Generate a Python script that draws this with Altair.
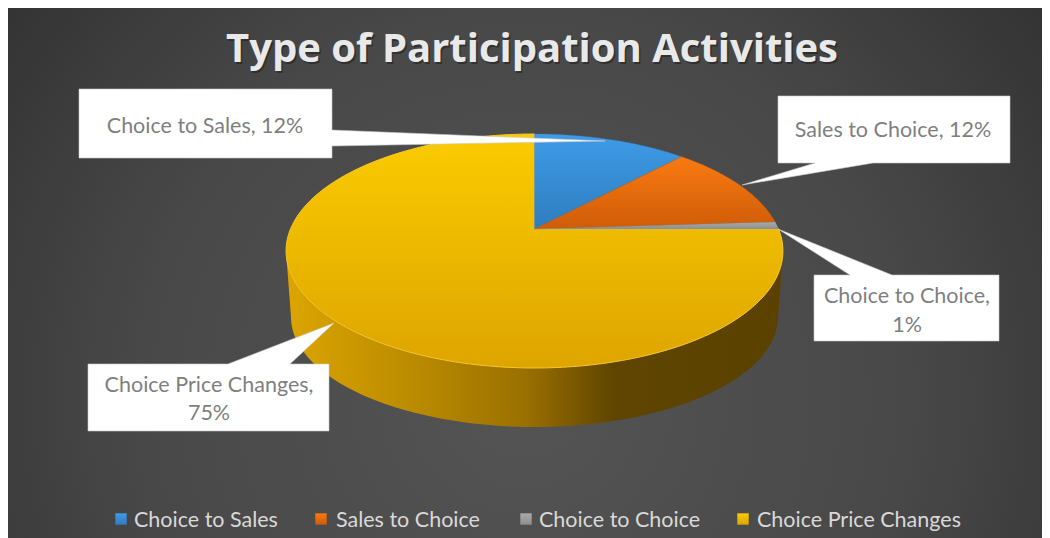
import numpy as np
import pandas as pd
import altair as alt

# ---- chart values
categories = ["Choice to Sales", "Sales to Choice", "Choice to Choice", "Choice Price Changes"]
shares = [12, 12, 1, 75]
title_text = "Type of Participation Activities"
tops = ["#3F9BE8", "#FA7A10", "#ABABAB", "#FBCB00"]
bottoms = ["#2E7DBE", "#CF5C08", "#8E8E8E", "#DEA500"]

# ---- callouts: outline vertices (box + pointer)
call_x = [
    [79, 332, 332, 605, 332, 332, 79],
    [778, 1010, 1010, 873, 742, 815, 778],
    [814, 850, 778, 892, 999, 999, 814],
    [88, 228, 334, 290, 329, 329, 88],
]
call_y = [
    [89, 89, 130, 141, 146, 158, 158],
    [96, 96, 163, 163, 185, 163, 163],
    [275, 275, 229, 275, 275, 341, 341],
    [364, 364, 323, 364, 364, 431, 431],
]
label_text = ["Choice to Sales, 12%", "Sales to Choice, 12%", "Choice to Choice,", "1%", "Choice Price Changes,", "75%"]
label_x = [205, 893, 907, 907, 209, 209]
label_y = [126.5, 130.5, 296.5, 325.5, 386, 414]

legend_swatch_x = [121, 321, 526, 743]
legend_text_x = [134, 336, 539, 757]
legend_y = 519
legend_text_y = 520.5

# ---- perspective of the pie disc
CX, APEX_Y, K, PA, PC = 534.5, 229.0, 244.0, -69.8, 0.188
DISC_CY, DISC_RX, DISC_RY = 251.0, 248.5, 117.0
BASE_CY, BASE_RX, BASE_RY = 317.0, 243.5, 110.0


def disc(theta):
    u, v = np.sin(theta), np.cos(theta)
    d = PC * v + 1
    return CX + K * u / d, (PA * v + APEX_Y) / d


xs = alt.Scale(domain=[8, 1042], range=[0, 1034], nice=False, zero=False)
ys = alt.Scale(domain=[8, 538], range=[0, 530], nice=False, zero=False)
X = alt.X("x:Q", scale=xs, axis=None)
Y = alt.Y("y:Q", scale=ys, axis=None)


def vgrad(c1, c2):
    return alt.LinearGradient(
        gradient="linear", x1=0, x2=0, y1=0, y2=1,
        stops=[alt.GradientStop(color=c1, offset=0), alt.GradientStop(color=c2, offset=1)],
    )


def poly(px, py, **mark):
    df = pd.DataFrame({"x": px, "y": py, "o": range(len(px))})
    return alt.Chart(df).mark_line(interpolate="linear-closed", **mark).encode(x=X, y=Y, order="o:Q")


def text(rows, **mark):
    return alt.Chart(pd.DataFrame(rows)).mark_text(**mark).encode(x=X, y=Y, text="t:N")


layers = []

# background
bg = alt.RadialGradient(
    gradient="radial", x1=0.5, y1=0.62, r1=0.0, x2=0.5, y2=0.62, r2=0.68,
    stops=[
        alt.GradientStop(color="#545454", offset=0),
        alt.GradientStop(color="#484848", offset=0.55),
        alt.GradientStop(color="#2F2F2F", offset=1),
    ],
)
layers.append(
    alt.Chart(pd.DataFrame({"x": [8], "x2": [1042], "y": [8], "y2": [538]}))
    .mark_rect(fill=bg)
    .encode(x=X, x2="x2:Q", y=Y, y2="y2:Q")
)

# side wall of the disc
tt = np.radians(np.arange(0, 181, 2))
wx = list(CX - DISC_RX * np.cos(tt)) + list(CX + BASE_RX * np.cos(tt))
wy = list(DISC_CY + DISC_RY * np.sin(tt)) + list(BASE_CY + BASE_RY * np.sin(tt))
wall = alt.LinearGradient(
    gradient="linear", x1=0, x2=1, y1=0, y2=0,
    stops=[
        alt.GradientStop(color="#DCA500", offset=0),
        alt.GradientStop(color="#BC8C00", offset=0.25),
        alt.GradientStop(color="#9A7000", offset=0.48),
        alt.GradientStop(color="#5F4500", offset=0.66),
        alt.GradientStop(color="#5A4100", offset=1),
    ],
)
layers.append(poly(wx, wy, fill=wall, strokeWidth=0))

# top of the disc, one wedge per share
start = 0.0
order = [3, 0, 1, 2]
spans = {}
for i, s in enumerate(shares):
    spans[i] = (start, start + s)
    start += s
for i in order:
    a, b = spans[i]
    th = np.radians(np.linspace(a, b, int((b - a) * 3.6) + 2) * 3.6)
    ax, ay = disc(th)
    px = [CX] + list(ax)
    py = [APEX_Y] + list(ay)
    layers.append(poly(px, py, fill=vgrad(tops[i], bottoms[i]),
                       stroke="#F8C92A" if i == 3 else bottoms[i], strokeWidth=1 if i == 3 else 0.3))

# callouts
for cx_, cy_ in zip(call_x, call_y):
    layers.append(poly(cx_, cy_, fill="#FFFFFF", stroke="#C9C9C9", strokeWidth=0.6))

layers.append(text({"x": label_x, "y": label_y, "t": label_text},
                   font="Lato", fontSize=21.5, color="#7F7F7F", align="center", baseline="middle"))

# title with its soft shadow
layers.append(text({"x": [533.5], "y": [51.5], "t": [title_text]},
                   font="Open Sans", fontSize=40, fontWeight="bold", color="#1E1E1E", opacity=0.55,
                   align="center", baseline="middle"))
layers.append(text({"x": [532], "y": [50], "t": [title_text]},
                   font="Open Sans", fontSize=40, fontWeight="bold", color="#E9E9E9",
                   align="center", baseline="middle"))

# legend
for i, c in enumerate(categories):
    layers.append(
        alt.Chart(pd.DataFrame({"x": [legend_swatch_x[i]], "y": [legend_y]}))
        .mark_square(size=130, fill=vgrad(tops[i], bottoms[i]), opacity=1)
        .encode(x=X, y=Y)
    )
layers.append(text({"x": legend_text_x, "y": [legend_text_y] * 4, "t": categories},
                   font="Lato", fontSize=21.5, color="#D9D9D9", align="left", baseline="middle"))

chart = (
    alt.layer(*layers)
    .properties(width=1034, height=530, padding=0, autosize=alt.AutoSizeParams(type="none"))
    .configure_view(strokeWidth=0)
)
chart.save("out.html", embed_options={"renderer": "svg", "actions": False})
